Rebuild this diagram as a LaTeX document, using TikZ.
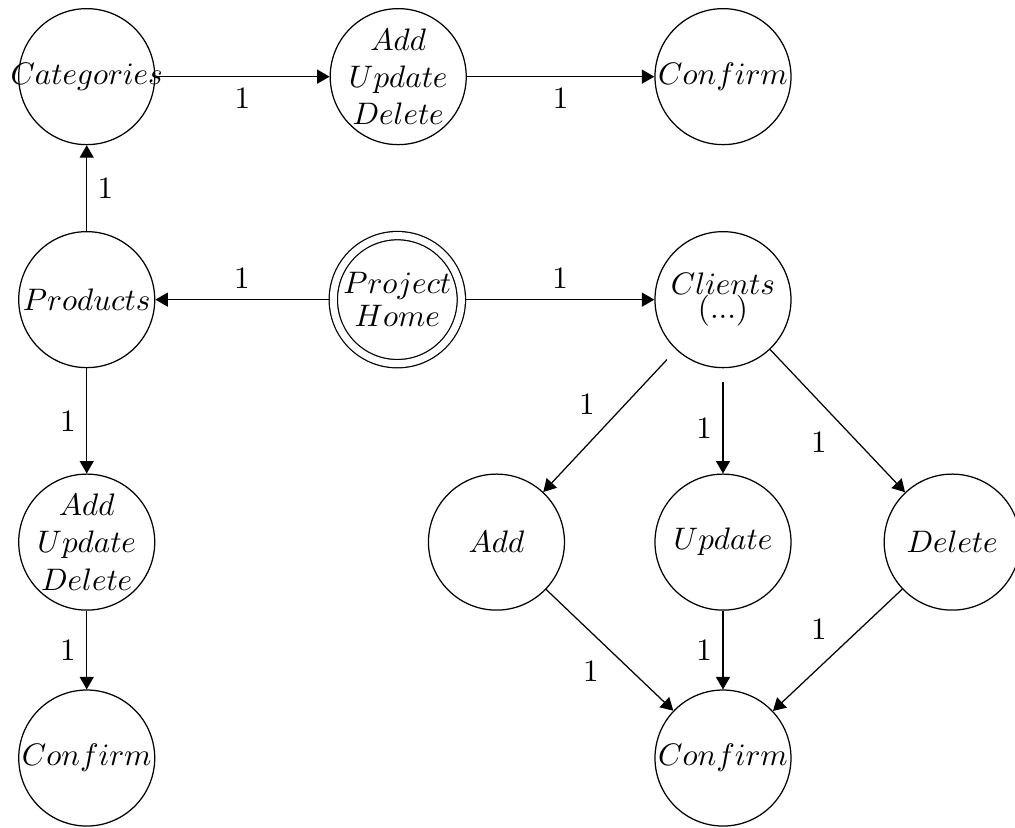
\documentclass[tikz,border=0pt]{standalone}
\usepackage{amsfonts, amsmath, amssymb}
\usepackage{tikz}
\usetikzlibrary{arrows.meta}

\begin{document}
\begin{tikzpicture}[>={Triangle[length=4pt,width=4.5pt]}, state/.style={draw, circle, minimum size=1.537cm, inner sep=0pt}, accept/.style={state, double, double distance=2.27pt, minimum size=1.447cm, outer sep=1.5pt}]
	\useasboundingbox (0,0) rectangle (11.47,9.346);
	\node[state, label=center:{$Categories$}] (cat) at (.98,8.48) {};
	\node[state, label={[align=center]center:$Add$\\$Update$\\$Delete$}] (aud1) at (4.5,8.48) {};
	\node[state, label=center:{$Confirm$}] (conf1) at (8.17,8.48) {};
	\node[state, label=center:{$Products$}] (prod) at (.98,5.96) {};
	\node[accept, label={[align=center]center:$Project$\\[-1.3pt]$Home$}] (home) at (4.49,5.96) {};
	\node[state, label={[align=center]center:$Clients$\\[-1ex]$(...)$}] (cli) at (8.17,5.96) {};
	\node[state, label={[align=center]center:$Add$\\$Update$\\$Delete$}] (aud2) at (.98,3.22) {};
	\node[state, label=center:{$Confirm$}] (conf2) at (.98,.78) {};
	\node[state, label=center:{$Add$}] (add) at (5.61,3.22) {};
	\node[state, label=center:{$Update$}] (upd) at (8.17,3.22) {};
	\node[state, label=center:{$Delete$}] (del) at (10.76,3.22) {};
	\node[state, label=center:{$Confirm$}] (conf3) at (8.17,.78) {};
	\draw[->] (cat) -- node[below] {1} (aud1);
	\draw[->] (aud1) -- node[below] {1} (conf1);
	\draw[->] (prod) -- node[right] {1} (cat);
	\draw[->] (home) -- node[above] {1} (prod);
	\draw[->] (home) -- node[above] {1} (cli);
	\draw[->] (prod) -- node[left] {1} (aud2);
	\draw[->] (aud2) -- node[left] {1} (conf2);
	\draw[->, shorten <=4.3pt] (cli) -- node[above left, pos=.53] {1} (add);
	\draw[->, shorten <=4.3pt] (cli) -- node[left, pos=.57] {1} (upd);
	\draw[->] (cli) -- node[below left] {1} (del);
	\draw[->] (add) -- node[below left] {1} (conf3);
	\draw[->] (upd) -- node[left] {1} (conf3);
	\draw[->] (del) -- node[above left] {1} (conf3);
\end{tikzpicture}
\end{document}
